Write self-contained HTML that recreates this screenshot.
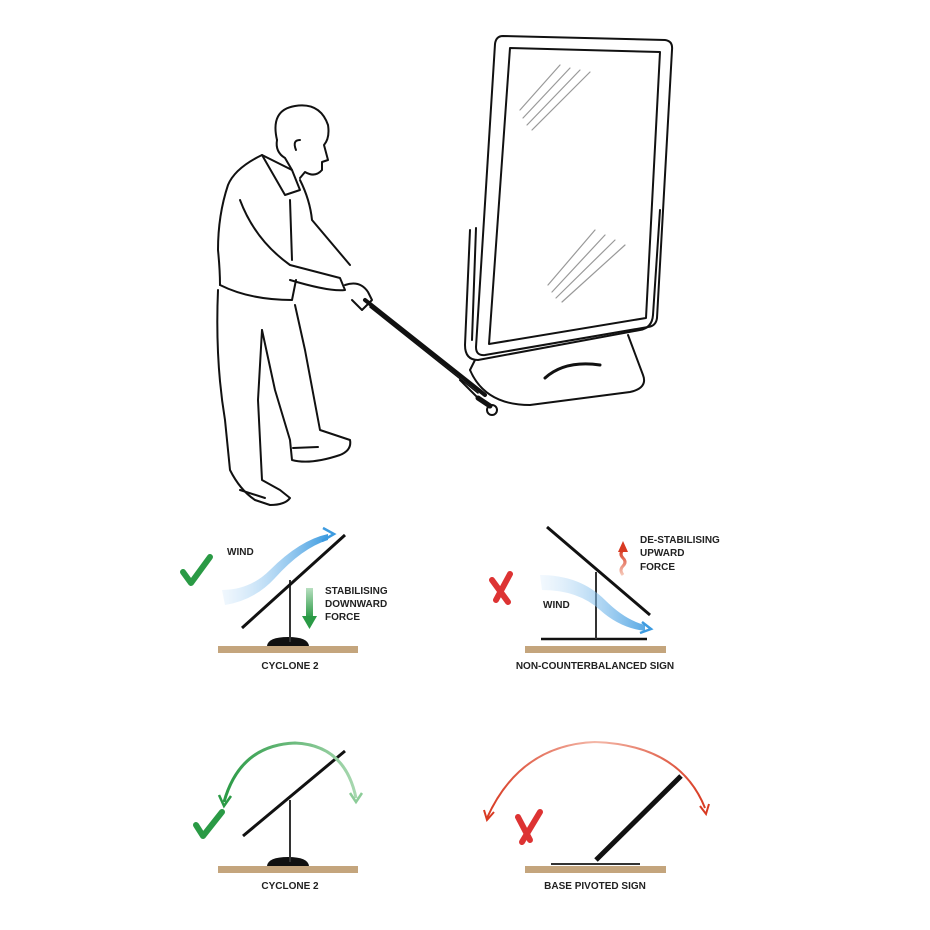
<!DOCTYPE html>
<html><head><meta charset="utf-8"><style>
html,body{margin:0;padding:0;background:#fff;}
svg{display:block}
text{font-family:"Liberation Sans",sans-serif;font-weight:bold;fill:#222;}
</style></head><body>
<svg width="930" height="930" viewBox="0 0 930 930" xmlns="http://www.w3.org/2000/svg">
<defs>
<linearGradient id="bl" x1="0" y1="0" x2="1" y2="0"><stop offset="0" stop-color="#cfe6fa" stop-opacity="0.3"/><stop offset="1" stop-color="#3d9be0"/></linearGradient>
<linearGradient id="gr" x1="0" y1="0" x2="0" y2="1"><stop offset="0" stop-color="#b8dfc0"/><stop offset="1" stop-color="#2a9a45"/></linearGradient>
<linearGradient id="rd" x1="0" y1="1" x2="0" y2="0"><stop offset="0" stop-color="#f6c8b8"/><stop offset="1" stop-color="#d83a22"/></linearGradient>
<linearGradient id="ga" x1="0" y1="0" x2="1" y2="0"><stop offset="0" stop-color="#2a9a45"/><stop offset="1" stop-color="#a8d8b0"/></linearGradient>
<linearGradient id="ra" x1="0" y1="0" x2="1" y2="0"><stop offset="0" stop-color="#d83a22"/><stop offset="0.5" stop-color="#f4b8a8"/><stop offset="1" stop-color="#d83a22"/></linearGradient>
</defs>
<g fill="none" stroke="#111" stroke-width="2" stroke-linejoin="round" stroke-linecap="round">
<!-- sign -->
<path d="M503 36 L665 40 Q673 41 672 50 L657 318 Q656 326 648 327 L485 355 Q476 356 476 347 L495 44 Q496 36 503 36 Z"/>
<path d="M510 48 L660 52 L646 318 L489 344 Z"/>
<path d="M470 230 L465 345 Q465 360 478 360 L640 330 Q652 328 653 315 L660 210"/>
<path d="M476 228 L472 340"/>
<path d="M470 370 Q485 405 530 405 L630 392 Q648 388 643 375 L628 335"/>
<path d="M475 360 L470 370" />
<path d="M545 378 Q565 360 600 365" stroke-width="3"/>
<g stroke="#999" stroke-width="1.2">
<path d="M520 110 L560 65 M523 118 L570 68 M527 125 L580 70 M532 130 L590 72"/>
<path d="M548 285 L595 230 M552 292 L605 235 M556 298 L615 240 M562 302 L625 245"/>
</g>
<!-- man head -->
<path d="M277 140 Q270 110 295 106 Q320 102 328 125 Q330 138 324 145 L328 160 L322 162 L322 170 Q315 178 305 172 L300 178"/>
<path d="M277 140 Q275 152 285 158 L292 170"/>
<path d="M296 150 Q292 140 300 140" />
<!-- collar/body -->
<path d="M262 155 L292 170 L300 190 L285 195 Z"/>
<path d="M262 155 Q235 168 228 185 Q218 215 218 250 Q220 270 220 285"/>
<path d="M300 180 Q310 200 312 220 L350 265"/>
<path d="M290 200 L292 260"/>
<path d="M240 200 Q255 240 290 265 L340 278 L345 290 Q330 292 290 280"/>
<path d="M220 285 Q250 300 292 300 L296 280"/>
<!-- legs -->
<path d="M218 290 Q215 360 225 420 L230 470 Q240 490 255 500 L270 505 Q285 505 290 498 L280 490 L262 480 L258 400 L262 330"/>
<path d="M262 330 L275 390 L290 440 L292 460 Q310 465 340 455 Q352 450 350 440 L335 435 L320 430 L305 350 L295 305"/>
<path d="M240 490 L265 498" />
<path d="M293 448 L318 447" />
<!-- hands & pole -->
<path d="M345 285 Q360 280 368 292 L372 300 L362 310 L352 300"/>
<path d="M365 300 L485 395" stroke-width="4"/>
<path d="M370 307 L478 393" stroke-width="1.5"/>
<path d="M460 380 L480 400"/>
<circle cx="492" cy="410" r="5"/>
<path d="M478 398 L490 406" stroke-width="5"/>
</g>
<!-- Diagram 1 -->
<rect x="218" y="646" width="140" height="7" fill="#c4a57d"/>
<path d="M267 646 Q268 637 288 637 Q308 637 309 646 Z" fill="#111"/>
<line x1="290" y1="580" x2="290" y2="642" stroke="#333" stroke-width="2"/>
<line x1="242" y1="628" x2="345" y2="535" stroke="#111" stroke-width="3"/>
<path d="M222 590 Q250 590 270 570 Q300 540 328 534 L328 540 Q302 548 275 578 Q255 600 225 605 Z" fill="url(#bl)"/>
<path d="M323 528 L334 534 L322 541" fill="none" stroke="#3d9be0" stroke-width="2.5"/>
<rect x="306" y="588" width="7" height="30" fill="url(#gr)"/>
<path d="M302 616 L317 616 L309.5 629 Z" fill="#2a9a45"/>
<path d="M183 572 L191 583 L210 557" fill="none" stroke="#2a9a45" stroke-width="6" stroke-linecap="round" stroke-linejoin="round"/>
<text x="227" y="555" font-size="10">WIND</text>
<text x="325" y="594" font-size="10">STABILISING</text>
<text x="325" y="607" font-size="10">DOWNWARD</text>
<text x="325" y="620" font-size="10">FORCE</text>
<text x="290" y="669" font-size="10" text-anchor="middle">CYCLONE 2</text>
<!-- Diagram 2 -->
<rect x="525" y="646" width="141" height="7" fill="#c4a57d"/>
<line x1="541" y1="639" x2="647" y2="639" stroke="#111" stroke-width="2.5"/>
<line x1="596" y1="572" x2="596" y2="639" stroke="#333" stroke-width="2"/>
<line x1="547" y1="527" x2="650" y2="615" stroke="#111" stroke-width="3"/>
<path d="M540 575 Q580 575 605 600 Q625 620 645 625 L645 631 Q620 628 600 610 Q578 590 542 590 Z" fill="url(#bl)" opacity="0.85"/>
<path d="M642 622 L651 629 L640 633" fill="none" stroke="#3d9be0" stroke-width="2.5"/>
<path d="M623 575 Q619 570 623 566 Q627 562 623 558 Q619 554 623 550" fill="none" stroke="url(#rd)" stroke-width="3"/>
<path d="M618 552 L623 541 L628 552 Z" fill="#d83a22"/>
<path d="M492 580 L508 602 M510 574 L496 600" stroke="#d33" stroke-width="6" stroke-linecap="round"/>
<text x="640" y="543" font-size="10">DE-STABILISING</text>
<text x="640" y="556" font-size="10">UPWARD</text>
<text x="640" y="570" font-size="10">FORCE</text>
<text x="543" y="608" font-size="10">WIND</text>
<text x="595" y="669" font-size="10" text-anchor="middle">NON-COUNTERBALANCED SIGN</text>
<!-- Diagram 3 -->
<rect x="218" y="866" width="140" height="7" fill="#c4a57d"/>
<path d="M267 866 Q268 857 288 857 Q308 857 309 866 Z" fill="#111"/>
<line x1="290" y1="800" x2="290" y2="862" stroke="#333" stroke-width="2"/>
<line x1="243" y1="836" x2="345" y2="751" stroke="#111" stroke-width="3"/>
<path d="M224 802 Q240 745 295 743 Q345 745 356 798" fill="none" stroke="url(#ga)" stroke-width="3"/>
<path d="M219 795 L224 806 L231 796" fill="none" stroke="#2a9a45" stroke-width="2.5"/>
<path d="M350 793 L356 802 L362 793" fill="none" stroke="#8ccc98" stroke-width="2.5"/>
<path d="M196 825 L203 836 L222 812" fill="none" stroke="#2a9a45" stroke-width="6" stroke-linecap="round" stroke-linejoin="round"/>
<text x="290" y="889" font-size="10" text-anchor="middle">CYCLONE 2</text>
<!-- Diagram 4 -->
<rect x="525" y="866" width="141" height="7" fill="#c4a57d"/>
<line x1="551" y1="864" x2="640" y2="864" stroke="#333" stroke-width="2"/>
<line x1="596" y1="860" x2="681" y2="776" stroke="#111" stroke-width="5"/>
<path d="M487 818 Q520 745 595 742 Q680 745 705 808" fill="none" stroke="url(#ra)" stroke-width="2"/>
<path d="M484 810 L487 820 L494 812" fill="none" stroke="#d83a22" stroke-width="2"/>
<path d="M700 806 L706 814 L709 804" fill="none" stroke="#d83a22" stroke-width="2"/>
<path d="M518 817 L530 840 M540 812 L522 842" stroke="#d33" stroke-width="6" stroke-linecap="round"/>
<text x="595" y="889" font-size="10" text-anchor="middle">BASE PIVOTED SIGN</text>
</svg>
</body></html>
